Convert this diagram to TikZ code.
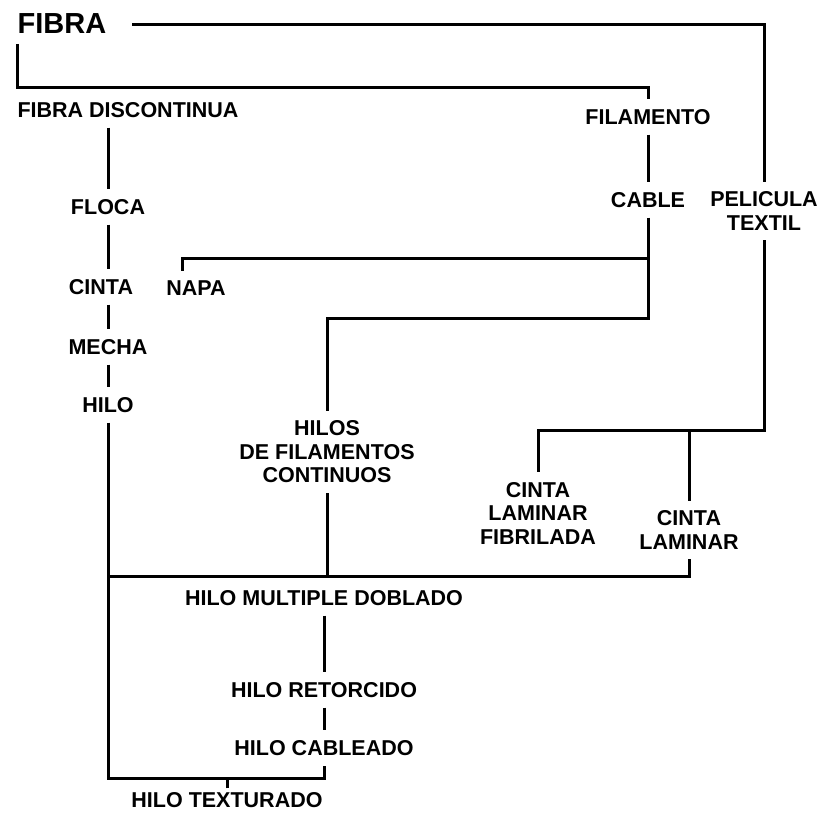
\documentclass[tikz,border=0pt]{standalone}
\usepackage{fontspec}
\setmainfont{Liberation Sans}
\usetikzlibrary{positioning,calc}

\begin{document}
\begin{tikzpicture}[x=1pt, y=-1pt,
    lbl/.style={font=\fontsize{21.5}{23.5}\selectfont\bfseries, inner sep=0pt, outer sep=10pt, align=center, text=black},
    big/.style={font=\fontsize{29}{31}\selectfont\bfseries, inner sep=0pt, outer sep=10pt, text=black},
    ln/.style={line width=3pt, black},
]
\useasboundingbox (0,0) rectangle (820,812);

% Top: origin
\node[big] (fibra) at (62,24) {FIBRA};

% Left: Fibra discontinua
\node[lbl] (fibdisc) at (128,110) {FIBRA DISCONTINUA};
\node[lbl] (floca) at (108,207) {FLOCA};
\node[lbl] (cinta) at (101,287) {CINTA};
\node[lbl] (mecha) at (108,347) {MECHA};
\node[lbl] (hilo) at (108,405) {HILO};

% Center: Filamento
\node[lbl] (filamento) at (648,117) {FILAMENTO};
\node[lbl] (cable) at (648,200) {CABLE};
\node[lbl] (napa) at (196,288) {NAPA};
\node[lbl] (hilos) at (327,452) {HILOS\\DE FILAMENTOS\\CONTINUOS};

% Right: Pelicula textil
\node[lbl] (pelicula) at (764,211) {PELICULA\\TEXTIL};
\node[lbl] (fibrilada) at (538,513) {CINTA\\LAMINAR\\FIBRILADA};
\node[lbl] (cintalam) at (689,530) {CINTA\\LAMINAR};

% Bottom: Hilos
\node[lbl] (multiple) at (324,598) {HILO MULTIPLE DOBLADO};
\node[lbl] (retorcido) at (324,690) {HILO RETORCIDO};
\node[lbl] (cableado) at (324,748) {HILO CABLEADO};
\node[lbl] (texturado) at (227,800) {HILO TEXTURADO};

% Junctions
\coordinate (jfib) at (17,87);
\coordinate (jnapa) at (648,258);
\coordinate (jhilos) at (648,318);
\coordinate (jlam) at (764,430);
\coordinate (jmid) at (108,576);
\coordinate (jbot) at (108,778);

% Lines
\draw[ln] ([xshift=16pt]fibra.east) -| (pelicula.north);
\draw[ln] (fibra.south -| jfib) -- (jfib) -| (filamento.north);
\draw[ln] (fibdisc.south -| floca) -- (floca.north);
\draw[ln] (floca.south) -- (floca.south |- cinta.north);
\draw[ln] (mecha.north |- cinta.south) -- (mecha.north);
\draw[ln] (mecha.south) -- (hilo.north);
\draw[ln] (hilo.south) -- (jbot) -| (cableado.south);
\draw[ln] (jmid) -| (cintalam.south);
\draw[ln] (filamento.south) -- (cable.north);
\draw[ln] (cable.south) -- (jhilos) -| (hilos.north);
\draw[ln] (jnapa) -| ([xshift=-14pt]napa.north);
\draw[ln] (pelicula.south) -- (jlam) -| (fibrilada.north);
\draw[ln] (cintalam.north |- jlam) -- (cintalam.north);
\draw[ln] (hilos.south) -- (hilos.south |- jmid);
\draw[ln] (multiple.south) -- (retorcido.north);
\draw[ln] (retorcido.south) -- (cableado.north);
\draw[ln] ([yshift=-6pt]texturado.north) -- (texturado.north |- jbot);
\end{tikzpicture}
\end{document}
